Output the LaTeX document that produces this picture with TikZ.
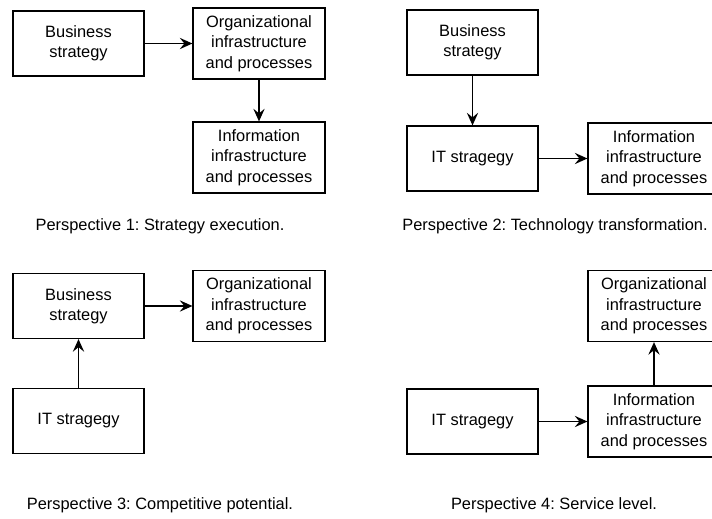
\documentclass[tikz,border=0pt]{standalone}
\usepackage{fontspec}
\setmainfont{Liberation Sans}
\usetikzlibrary{arrows.meta}
\frenchspacing
\tikzset{
  box/.style={draw, line width=0.9pt, align=center, inner sep=0pt,
    font=\fontsize{12.3}{15.3}\selectfont},
  sbox/.style={box, minimum width=98.25pt, minimum height=48.75pt},
  lbox/.style={box, minimum width=99pt, minimum height=53.25pt},
  conn/.style={line width=0.9pt, -{Stealth[length=9.5pt, width=8.5pt, inset=3.5pt]}},
  caption/.style={font=\fontsize{12.3}{15.3}\selectfont, inner sep=0pt}
}
\begin{document}
\begin{tikzpicture}[x=0.75pt, y=-0.75pt]
\useasboundingbox (0,0) rectangle (712,518);
\clip (0,0) rectangle (712,518);
% Perspective 1
\node[sbox] (B1) at (78.5,43.5) {Business\\strategy};
\node[lbox] (O1) at (259,43.5) {Organizational\\infrastructure\\and processes};
\node[lbox] (I1) at (259,157.5) {Information\\infrastructure\\and processes};
\draw[conn] (B1.east) -- (O1.west);
\draw[conn] (O1.south) -- (I1.north);
\node[caption] (C1) at (160,226) {Perspective 1: Strategy execution.};
% Perspective 2
\node[sbox] (B2) at (472.5,42.5) {Business\\strategy};
\node[sbox] (T2) at (472.5,158.5) {IT stragegy};
\node[lbox] (I2) at (654,158.5) {Information\\infrastructure\\and processes};
\draw[conn] (B2.south) -- (T2.north);
\draw[conn] (T2.east) -- (I2.west);
\node[caption] (C2) at (555,226) {Perspective 2: Technology transformation.};
% Perspective 3
\node[sbox] (B3) at (78.5,306) {Business\\strategy};
\node[lbox] (O3) at (259,306) {Organizational\\infrastructure\\and processes};
\node[sbox] (T3) at (78.5,421) {IT stragegy};
\draw[conn] (T3.north) -- (B3.south);
\draw[conn] (B3.east) -- (O3.west);
\node[caption] (C3) at (160,505) {Perspective 3: Competitive potential.};
% Perspective 4
\node[lbox] (O4) at (654,306) {Organizational\\infrastructure\\and processes};
\node[lbox] (I4) at (654,421.5) {Information\\infrastructure\\and processes};
\node[sbox] (T4) at (472.5,421.5) {IT stragegy};
\draw[conn] (T4.east) -- (I4.west);
\draw[conn] (I4.north) -- (O4.south);
\node[caption] (C4) at (554,505) {Perspective 4: Service level.};
\end{tikzpicture}
\end{document}
